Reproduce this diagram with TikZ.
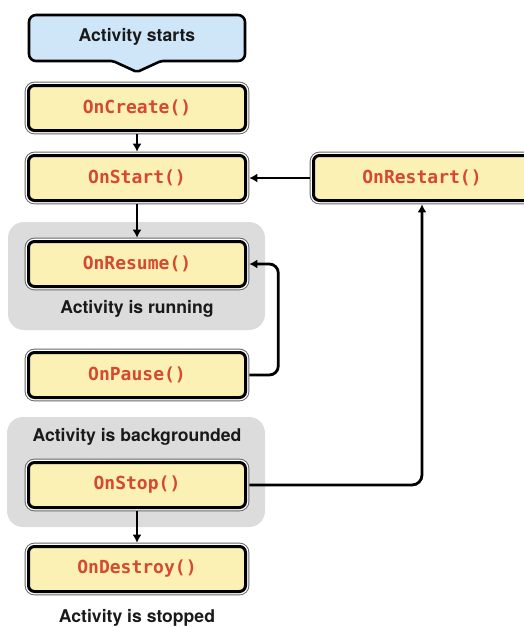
\documentclass[tikz,border=0pt]{standalone}
\usepackage{fontspec}
\setmainfont{TeX Gyre Heros}
\newfontfamily\codefont{DejaVu Sans Mono}
\usetikzlibrary{arrows.meta}
\definecolor{boxyellow}{HTML}{FBF1B5}
\definecolor{fnred}{HTML}{D6482F}
\definecolor{startblue}{HTML}{CFE6F8}
\definecolor{bggray}{HTML}{DCDCDC}
\tikzset{
  fnbox/.style={rounded corners=6pt, fill=boxyellow, draw=black, line width=3pt,
    preaction={draw=black!60, line width=7.6pt},
    preaction={draw=white, line width=5.6pt},
    minimum width=217pt, minimum height=45pt, outer sep=3.8pt,
    text=fnred, font=\codefont\bfseries\fontsize{18}{21}\selectfont},
  caption/.style={font=\bfseries\fontsize{17.6}{20}\selectfont, text=black!90},
  arr/.style={line width=2.8pt, -{Latex[length=8pt,width=9pt]}}
}
\begin{document}
\begin{tikzpicture}[x=1pt,y=-1pt]
			\clip (0,0) rectangle (524,627);
			%vung xam
			\fill[bggray, rounded corners=16pt] (8,222) rectangle (265,330);
			\fill[bggray, rounded corners=16pt] (7,417) rectangle (265,527);
			%khoi bat dau
			\draw[fill=startblue, line width=2.6pt, rounded corners=7pt] (137,15) -- (245,15) -- (245,61) [rounded corners=2pt] -- (161,61) -- (137,72) -- (113,61) [rounded corners=7pt] -- (29,61) -- (29,15) -- cycle;
			\node[caption] (start) at (137,37) {Activity starts};
			%cac ham
			\node[fnbox] (create) at (137,108) {OnCreate()};
			\node[fnbox] (onstart) at (137,178) {OnStart()};
			\node[fnbox] (restart) at (422,178) {OnRestart()};
			\node[fnbox] (resume) at (137,264) {OnResume()};
			\node[fnbox] (pause) at (137,375) {OnPause()};
			\node[fnbox] (stop) at (137,485) {OnStop()};
			\node[fnbox] (destroy) at (137,569) {OnDestroy()};
			%nhan
			\node[caption] (running) at (137,309) {Activity is running};
			\node[caption] (backgrounded) at (137,437) {Activity is backgrounded};
			\node[caption] (stopped) at (137,618) {Activity is stopped};
			%mui ten
			\draw[arr] (create) -- (onstart);
			\draw[arr] (onstart) -- (resume);
			\draw[arr] (stop) -- (destroy);
			\draw[arr] (restart.west) -- (onstart.east);
			\draw[arr, rounded corners=9pt] (pause.east) -- ++(29,0) |- (resume.east);
			\draw[arr, rounded corners=10pt] (stop.east) -| (restart.south);
\end{tikzpicture}
\end{document}
